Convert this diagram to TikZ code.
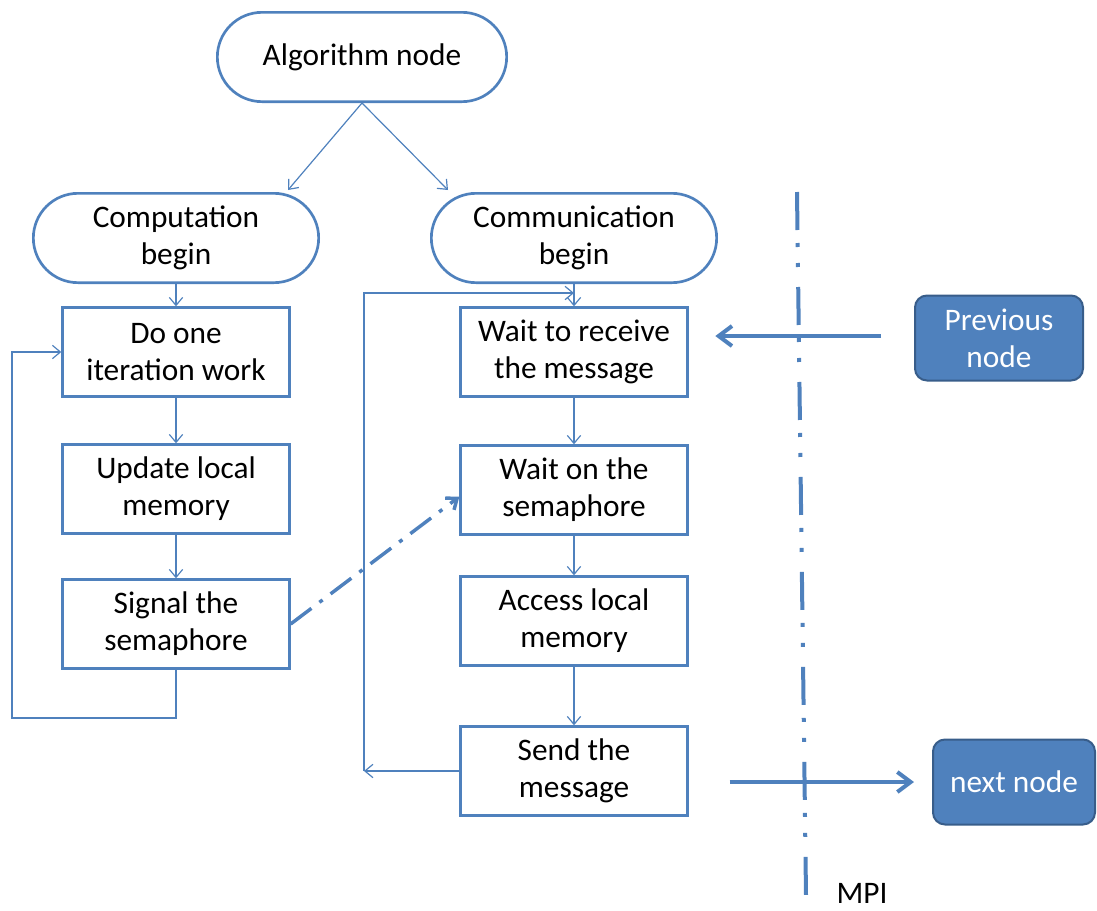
\documentclass[tikz,border=0pt]{standalone}
\usepackage{fontspec}
\setmainfont{Carlito}
\usetikzlibrary{arrows.meta,shapes.misc,calc}
\definecolor{obl}{HTML}{4F81BD}
\definecolor{obd}{HTML}{385D8A}
\begin{document}
\begin{tikzpicture}[x=0.75pt,y=-0.75pt,
  every node/.style={font=\fontsize{23.5}{27.75}\selectfont, align=center, inner sep=0pt},
  pill/.style={rounded rectangle, draw=obl, line width=2pt, minimum width=214pt, minimum height=67pt},
  box/.style={rectangle, draw=obl, line width=2pt, minimum width=170pt, minimum height=66.5pt},
  ext/.style={rectangle, rounded corners=9pt, draw=obd, line width=1.5pt, fill=obl, text=white, minimum height=63.75pt},
  conn/.style={draw=obl, line width=0.9pt, -{Straight Barb[length=6pt,width=10pt]}},
  big/.style={draw=obl, line width=3pt, -{Straight Barb[length=10pt,width=15pt]}},
  semdash/.style={draw=obl, line width=2.6pt, dash pattern=on 19.5pt off 7.5pt on 3pt off 7.5pt, -{Straight Barb[length=7pt,width=11pt]}},
  mpidash/.style={draw=obl, line width=3pt, dash pattern=on 28.5pt off 9.75pt on 3pt off 12pt on 3pt off 15pt}
]
\useasboundingbox (0,0) rectangle (1097,911);

% nodes
\node[pill, minimum width=217pt] (alg) at (362,57) {Algorithm node};
\node[pill] (comp) at (176,238) {Computation\\begin};
\node[pill] (comm) at (574,238) {Communication\\begin};

\node[box] (doone) at (176,352) {Do one\\iteration work};
\node[box] (upd) at (176,489) {Update local\\memory};
\node[box] (sig) at (176,624) {Signal the\\semaphore};

\node[box] (recv) at (574,352) {Wait to receive\\the message};
\node[box] (sema) at (574,490) {Wait on the\\semaphore};
\node[box] (acc) at (574,621) {Access local\\memory};
\node[box] (send) at (574,771) {Send the\\message};

\node[ext, minimum width=126pt] (prev) at (999,338) {Previous\\node};
\node[ext, minimum width=121.5pt] (next) at (1014,782) {next node};

\node (mpi) at (862,893) {MPI};

% coordinates
\coordinate (loopL) at (12,718);
\coordinate (loopR) at (364,771);
\coordinate (loopTop) at (574,293);
\coordinate (mpiTop) at (797,192);
\coordinate (mpiBot) at (806,895);

% connectors
\draw[conn] (alg.south) -- ($(comp.north)+(112,-2)$);
\draw[conn] (alg.south) -- ($(comm.north)+(-126,-2)$);

\draw[conn] (comp.south) -- (doone.north);
\draw[conn] (doone.south) -- (upd.north);
\draw[conn] (upd.south) -- (sig.north);
\draw[conn] (sig.south) |- (loopL) |- (doone.west);

\draw[conn] (comm.south) -- (recv.north);
\draw[conn] (recv.south) -- (sema.north);
\draw[conn] (sema.south) -- (acc.north);
\draw[conn] (acc.south) -- (send.north);
\draw[conn] (send.west) -- (loopR);
\draw[conn] (loopR) |- (loopTop);

\draw[semdash] (sig.east) -- ([yshift=-5pt]sema.west);

\draw[mpidash] (mpiTop) -- (mpiBot);

\draw[big, shorten <=24.75pt, shorten >=20pt] ([yshift=1.5pt]prev.west) -- ([yshift=1.5pt]prev.west -| recv.east);
\draw[big, shorten <=30.75pt, shorten >=13.5pt] (send.east |- next.west) -- (next.west);
\end{tikzpicture}
\end{document}
